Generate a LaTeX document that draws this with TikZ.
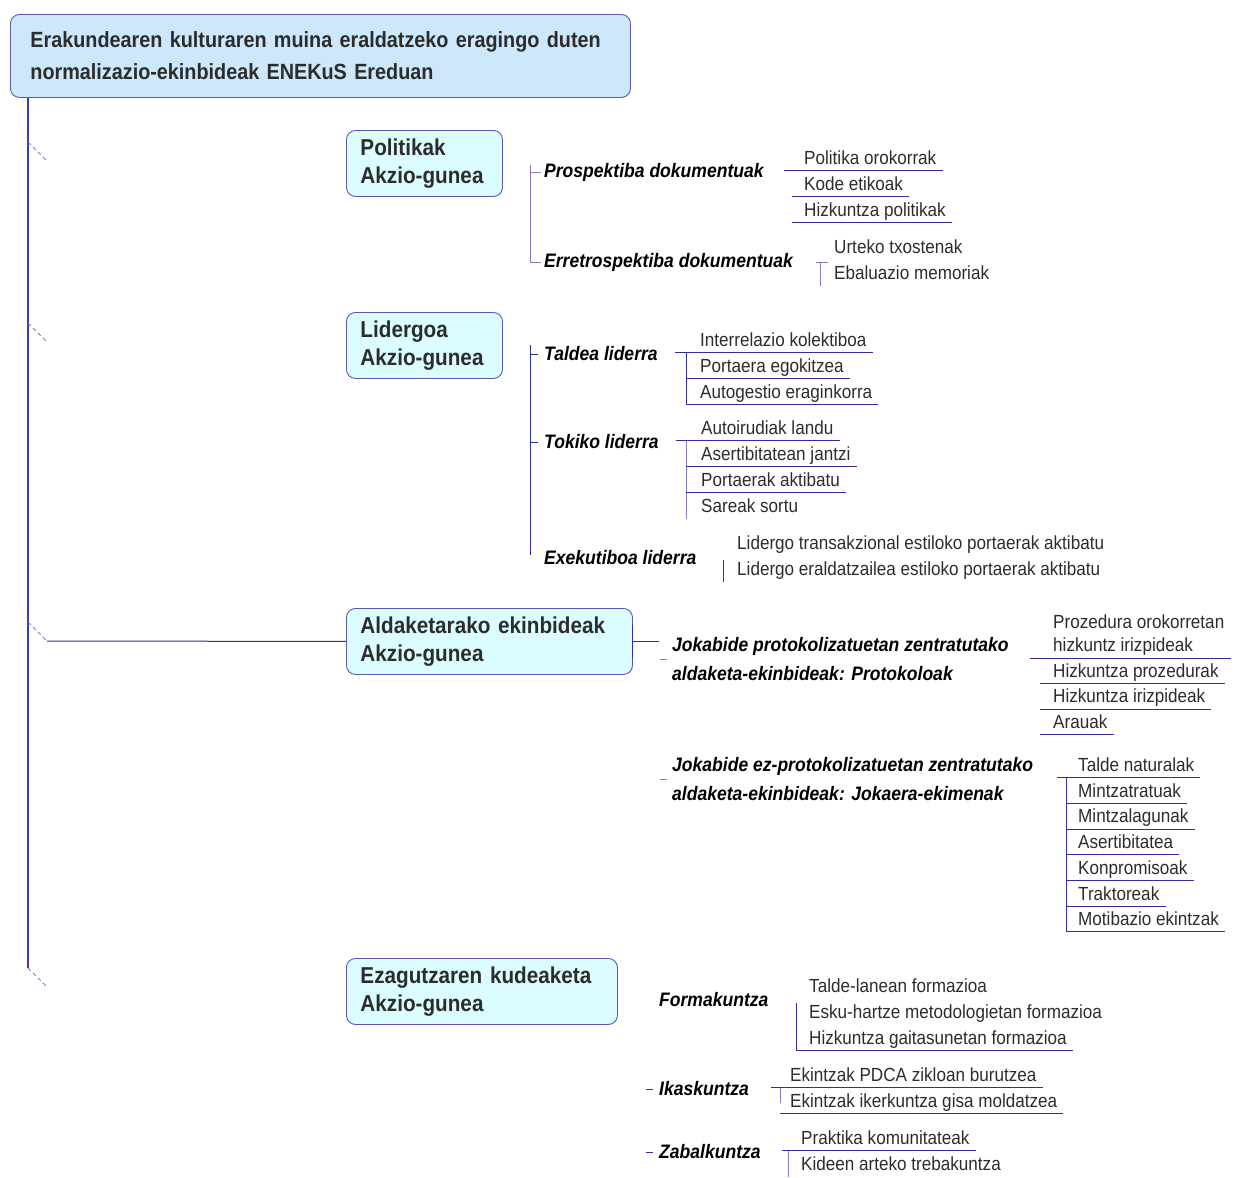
\documentclass[tikz,border=0pt]{standalone}
\usepackage{fontspec}
\setmainfont[FakeStretch=0.9]{Liberation Sans}
\usepackage{tikz}
\usetikzlibrary{calc}

\definecolor{linetrunk}{HTML}{3C3CAA}
\definecolor{linedark}{HTML}{2E2EA0}
\definecolor{linelight}{HTML}{7C7CCC}
\definecolor{boxline}{HTML}{5A5AB4}
\definecolor{titlefill}{HTML}{CDE7FB}
\definecolor{areafill}{HTML}{DCFDFF}
\definecolor{ink}{HTML}{2C2C2C}

\begin{document}
\begin{tikzpicture}[x=1pt,y=-1pt]
  \tikzstyle{titlebox} = [draw=boxline, fill=titlefill, rounded corners=9pt, line width=0.9pt, anchor=north west, align=left, text width=580pt, inner xsep=20pt, minimum height=83pt, text=ink, font=\bfseries\fontsize{22}{32}\selectfont]
  \tikzstyle{area} = [draw=boxline, fill=areafill, rounded corners=9pt, line width=0.9pt, anchor=north west, align=left, inner xsep=14pt, minimum height=66pt, text=ink, font=\bfseries\fontsize{23}{28}\selectfont]
  \tikzstyle{group} = [anchor=west, align=left, inner xsep=3pt, inner ysep=2pt, font=\bfseries\itshape\fontsize{19.5}{29}\selectfont]
  \tikzstyle{leaf} = [anchor=west, inner xsep=0pt, inner ysep=2pt, text height=13pt, text depth=4pt, text=ink, font=\fontsize{19}{23}\selectfont]
  \tikzstyle{twig} = [draw=linedark, line width=1pt]
  \tikzstyle{rail} = [draw=linelight, line width=1pt]
  \tikzstyle{stub} = [draw=linelight, line width=1pt, dash pattern=on 4pt off 3pt]

  \useasboundingbox (0,0) rectangle (1237,1178);

  % root and trunk
  \node[titlebox] (title) at (10,14) {Erakundearen kulturaren muina eraldatzeko eragingo duten\\normalizazio-ekinbideak ENEKuS Ereduan};
  \draw[draw=linetrunk, line width=1.6pt] ([xshift=18pt]title.south west) -- (28,968);
  \foreach \y in {142,323,622,968}
    \draw[stub] (28,\y) -- ++(19,19);

  % action areas
  \node[area, text width=128pt] (poli) at (346,130) {Politikak\\Akzio-gunea};
  \node[area, text width=128pt] (lide) at (346,312) {Lidergoa\\Akzio-gunea};
  \node[area, text width=258pt] (alda) at (346,608) {Aldaketarako ekinbideak\\Akzio-gunea};
  \node[area, text width=243pt] (ezag) at (346,958) {Ezagutzaren kudeaketa\\Akzio-gunea};
  \draw[twig] (47,641) -- (alda.west);

  % Politikak
  \node[group] (pros) at (541,172) {Prospektiba dokumentuak};
  \node[group] (erre) at (541,262) {Erretrospektiba dokumentuak};
  \draw[rail] ($(pros.west)+(-11,-7)$) |- (erre.west);
  \draw[rail] ([xshift=-11pt]pros.west) -- (pros.west);
  \foreach \t [count=\i] in {Politika orokorrak, Kode etikoak, Hizkuntza politikak}
    \node[leaf] (pros\i) at (804,134+26*\i) {\t};
  \draw[twig] ($(pros.east |- pros1.south)+(17,0)$) -- ([xshift=6pt]pros1.south east);
  \foreach \i in {2,3}
    \draw[twig] ([xshift=-12pt]pros\i.south west) -- ([xshift=6pt]pros\i.south east);
  \node[leaf] (erre1) at (834,249) {Urteko txostenak};
  \node[leaf] (erre2) at (834,275) {Ebaluazio memoriak};
  \draw[rail] ($(erre.east)+(20,0)$) -- ($(erre1.west |- erre.east)+(-6,0)$);
  \draw[rail] ($(erre1.west |- erre.east)+(-14,0)$) -- ([xshift=-14pt]erre2.south west);

  % Lidergoa
  \node[group] (tald) at (541,354) {Taldea liderra};
  \node[group] (toki) at (541,442) {Tokiko liderra};
  \node[group] (exek) at (541,558) {Exekutiboa liderra};
  \draw[twig] ($(tald.west)+(-11,-9)$) -- ($(exek.west)+(-11,-3)$);
  \foreach \n in {tald,toki}
    \draw[twig] ([xshift=-11pt]\n.west) -- ([xshift=-3pt]\n.west);
  \foreach \t [count=\i] in {Interrelazio kolektiboa, Portaera egokitzea, Autogestio eraginkorra}
    \node[leaf] (tald\i) at (700,316+26*\i) {\t};
  \draw[twig] ($(tald.east |- tald1.south)+(14,0)$) -- ([xshift=6pt]tald1.south east);
  \draw[twig] ([xshift=-14pt]tald1.south west) -- ([xshift=-14pt]tald3.south west);
  \foreach \i in {2,3}
    \draw[twig] ([xshift=-14pt]tald\i.south west) -- ([xshift=6pt]tald\i.south east);
  \foreach \t [count=\i] in {Autoirudiak landu, Asertibitatean jantzi, Portaerak aktibatu, Sareak sortu}
    \node[leaf] (toki\i) at (701,404+26*\i) {\t};
  \draw[twig] ($(toki.east |- toki1.south)+(14,0)$) -- ([xshift=6pt]toki1.south east);
  \draw[rail] ([xshift=-15pt]toki1.south west) -- ([xshift=-15pt]toki4.south west);
  \foreach \i in {2,3}
    \draw[twig] ([xshift=-15pt]toki\i.south west) -- ([xshift=6pt]toki\i.south east);
  \foreach \t [count=\i] in {Lidergo transakzional estiloko portaerak aktibatu, Lidergo eraldatzailea estiloko portaerak aktibatu}
    \node[leaf] (exek\i) at (737,519+26*\i) {\t};
  \draw[twig] ([xshift=-14pt]exek2.north west) -- ([xshift=-14pt]exek2.south west);

  % Aldaketarako ekinbideak
  \draw[twig] ($(alda.east)+(0,-16)$) -- ($(alda.east)+(0,17)$);
  \draw[twig] (alda.east) -- ++(26,0);
  \node[group] (prot) at (669,659) {Jokabide protokolizatuetan zentratutako\\aldaketa-ekinbideak: Protokoloak};
  \node[group] (joka) at (669,779) {Jokabide ez-protokolizatuetan zentratutako\\aldaketa-ekinbideak: Jokaera-ekimenak};
  \foreach \n in {prot,joka}
    \draw[rail] ([xshift=-9pt]\n.west) -- ([xshift=-2pt]\n.west);
  \node[leaf, align=left, text height={}, text depth={}] (prot1) at (1053,635.5) {Prozedura orokorretan\\hizkuntz irizpideak};
  \foreach \t [count=\i from 2] in {Hizkuntza prozedurak, Hizkuntza irizpideak, Arauak}
    \node[leaf] (prot\i) at (1053,621+25.8*\i) {\t};
  \draw[twig] ([xshift=-23pt]prot1.south west) -- ([xshift=6pt]prot1.south east);
  \foreach \i in {2,3,4}
    \draw[twig] ([xshift=-13pt]prot\i.south west) -- ([xshift=6pt]prot\i.south east);
  \foreach \t [count=\i] in {Talde naturalak, Mintzatratuak, Mintzalagunak, Asertibitatea, Konpromisoak, Traktoreak, Motibazio ekintzak}
    \node[leaf] (joka\i) at (1078,741.3+25.7*\i) {\t};
  \draw[twig] ([xshift=-21pt]joka1.south west) -- ([xshift=6pt]joka1.south east);
  \foreach \i in {2,...,7}
    \draw[twig] ([xshift=-12pt]joka\i.south west) -- ([xshift=6pt]joka\i.south east);
  \draw[twig] ([xshift=-12pt]joka1.south west) -- ([xshift=-12pt]joka7.south west);

  % Ezagutzaren kudeaketa
  \node[group] (form) at (656,1000) {Formakuntza};
  \node[group] (ikas) at (656,1089) {Ikaskuntza};
  \node[group] (zaba) at (656,1152) {Zabalkuntza};
  \foreach \n in {ikas,zaba}
    \draw[twig] ([xshift=-10pt]\n.west) -- ([xshift=-3pt]\n.west);
  \foreach \t [count=\i] in {Talde-lanean formazioa, Esku-hartze metodologietan formazioa, Hizkuntza gaitasunetan formazioa}
    \node[leaf] (form\i) at (809,962+26*\i) {\t};
  \draw[twig] ([xshift=-13pt]form2.north west) -- ([xshift=-13pt]form3.south west) -- ([xshift=6pt]form3.south east);
  \foreach \t [count=\i] in {Ekintzak PDCA zikloan burutzea, Ekintzak ikerkuntza gisa moldatzea}
    \node[leaf] (ikas\i) at (790,1051+26*\i) {\t};
  \draw[twig] ($(ikas.east |- ikas1.south)+(19,0)$) -- ([xshift=6pt]ikas1.south east);
  \draw[twig] ([xshift=-10pt]ikas2.south west) -- ([xshift=6pt]ikas2.south east);
  \draw[rail] ([xshift=-10pt]ikas1.south west) -- ([xshift=-10pt]ikas2.west);
  \foreach \t [count=\i] in {Praktika komunitateak, Kideen arteko trebakuntza}
    \node[leaf] (zaba\i) at (801,1114+26*\i) {\t};
  \draw[twig] ($(zaba.east |- zaba1.south)+(18,0)$) -- ([xshift=6pt]zaba1.south east);
  \draw[rail] ([xshift=-13pt]zaba1.south west) -- ([xshift=-13pt]zaba2.south west);
\end{tikzpicture}
\end{document}
